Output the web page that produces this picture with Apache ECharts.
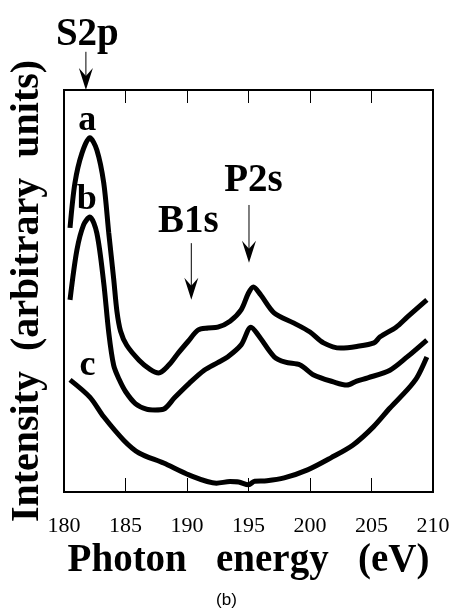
<!DOCTYPE html>
<html>
<head>
<meta charset="utf-8">
<script src="https://cdn.jsdelivr.net/npm/echarts@6/dist/echarts.min.js"></script>
<style>
html,body{margin:0;padding:0;background:#fff;}
#chart{width:453px;height:614px;}
</style>
</head>
<body>
<div id="chart"></div>
<script>
// ---- data ----
const xTicks = [180, 185, 190, 195, 200, 205, 210];

const energyA = [180.49, 180.89, 181.46, 182.1, 182.67, 183.23, 183.64, 184.04, 184.3, 184.6, 185.1, 186.1, 187.0, 187.7, 188.5, 189.3, 190.1, 190.9, 191.7, 192.5, 193.5, 194.4, 195.0, 195.4, 196.0, 197.1, 198.7, 200.0, 201.1, 202.5, 203.8, 205.2, 205.7, 207.0, 207.9, 209.5];
const intensityA = [65.7, 76.9, 84.3, 88.1, 85.1, 76.9, 64.4, 53.0, 45.0, 40.0, 36.5, 32.8, 30.5, 29.6, 31.5, 34.6, 37.5, 40.3, 40.8, 41.0, 42.5, 45.3, 49.5, 51.0, 49.0, 44.5, 42.0, 39.8, 37.1, 35.8, 36.2, 37.1, 38.6, 41.0, 43.5, 47.8];

const energyB = [180.49, 181.05, 181.6, 182.1, 182.67, 183.23, 183.64, 184.04, 184.5, 185.0, 185.8, 186.7, 187.4, 188.1, 189.0, 190.2, 191.4, 192.5, 193.3, 194.4, 195.2, 195.8, 197.1, 198.0, 199.2, 200.3, 201.9, 203.0, 203.8, 204.7, 206.5, 207.9, 209.5];
const intensityB = [47.8, 60.2, 66.5, 68.4, 64.4, 52.0, 39.6, 31.5, 27.9, 25.0, 22.0, 20.6, 20.4, 20.6, 23.5, 27.1, 30.3, 32.2, 33.6, 36.6, 41.0, 39.0, 33.6, 32.3, 31.6, 29.1, 27.4, 26.6, 27.6, 28.4, 30.3, 33.6, 37.8];

const energyC = [180.49, 182.1, 183.23, 184.85, 186.1, 188.1, 190.2, 192.4, 193.5, 194.2, 195.0, 195.5, 196.5, 197.9, 199.8, 201.7, 203.5, 205.15, 206.5, 207.9, 208.7, 209.5];
const intensityC = [27.9, 23.6, 18.7, 12.9, 9.7, 7.2, 4.2, 2.2, 2.6, 2.5, 1.8, 2.7, 2.8, 3.5, 5.5, 8.5, 11.7, 16.2, 20.9, 25.4, 28.5, 33.6];

const curveLabels = [
  {text: 'a', x: 181.9, y: 92.3},
  {text: 'b', x: 181.86, y: 72.6},
  {text: 'c', x: 181.9, y: 31.3}
];
const peakLabels = [
  {text: 'S2p', x: 181.9, y: 113.6, from: 109.5, to: 100.0, ax: 181.78},
  {text: 'B1s', x: 190.1, y: 67.3, from: 61.9, to: 47.8, ax: 190.35},
  {text: 'P2s', x: 195.4, y: 77.3, from: 71.4, to: 57.0, ax: 195.04}
];

const zip = (xs, ys) => xs.map((x, i) => [x, ys[i]]);

const chart = echarts.init(document.getElementById('chart'));
const serif = 'Liberation Serif';
const lineStyle = {color: '#000', width: 5};

chart.setOption({
  animation: false,
  backgroundColor: '#fff',
  grid: {left: 62, right: 20, top: 90, bottom: 122, show: true, borderColor: '#000', borderWidth: 2, backgroundColor: 'transparent'},
  xAxis: [{
    type: 'value', min: xTicks[0], max: xTicks[xTicks.length - 1], interval: 5,
    position: 'bottom',
    axisLine: {show: true, lineStyle: {color: '#000', width: 2}},
    axisTick: {show: true, inside: true, length: 14, lineStyle: {color: '#000', width: 1}},
    splitLine: {show: false},
    axisLabel: {color: '#000', fontFamily: serif, fontSize: 22, margin: 23},
    name: 'Photon   energy   (eV)', nameLocation: 'middle', nameGap: 42,
    nameTextStyle: {color: '#000', fontFamily: serif, fontWeight: 'bold', fontSize: 39}
  }, {
    type: 'value', min: xTicks[0], max: xTicks[xTicks.length - 1], interval: 5,
    position: 'top',
    axisLine: {show: true, lineStyle: {color: '#000', width: 2}},
    axisTick: {show: true, inside: true, length: 13, lineStyle: {color: '#000', width: 1}},
    axisLabel: {show: false}, splitLine: {show: false}
  }],
  yAxis: {
    type: 'value', min: 0, max: 100,
    axisLine: {show: true, lineStyle: {color: '#000', width: 2}},
    axisTick: {show: false}, axisLabel: {show: false}, splitLine: {show: false},
    name: 'Intensity  (arbitrary  units)', nameLocation: 'middle', nameGap: 16,
    nameTextStyle: {color: '#000', fontFamily: serif, fontWeight: 'bold', fontSize: 40}
  },
  series: [
    {type: 'line', data: zip(energyA, intensityA), smooth: 0.3, symbol: 'none', lineStyle},
    {type: 'line', data: zip(energyB, intensityB), smooth: 0.3, symbol: 'none', lineStyle},
    {type: 'line', data: zip(energyC, intensityC), smooth: 0.3, symbol: 'none', lineStyle}
  ]
});

const px = (x, y) => chart.convertToPixel({gridIndex: 0}, [x, y]);
const g = [];
curveLabels.forEach(l => {
  const p = px(l.x, l.y);
  g.push({type: 'text', x: p[0], y: p[1], style: {text: l.text, fill: '#000', font: 'bold 36px "Liberation Serif"', textAlign: 'center', textVerticalAlign: 'middle'}});
});
peakLabels.forEach(l => {
  const p = px(l.x, l.y);
  g.push({type: 'text', x: p[0], y: p[1], style: {text: l.text, fill: '#000', font: 'bold 39px "Liberation Serif"', textAlign: 'center', textVerticalAlign: 'middle'}});
  const a = px(l.ax, l.from), b = px(l.ax, l.to);
  g.push({type: 'line', shape: {x1: a[0], y1: a[1], x2: b[0], y2: b[1] - 12}, style: {stroke: '#000', lineWidth: 1}});
  g.push({type: 'polygon', shape: {points: [[b[0], b[1]], [b[0] - 7, b[1] - 22], [b[0], b[1] - 14], [b[0] + 7, b[1] - 22]]}, style: {fill: '#000'}});
});
g.push({type: 'text', left: 'center', top: 592, style: {text: '(b)', fill: '#000', font: '17px "Liberation Sans"'}});
chart.setOption({graphic: g});
</script>
</body>
</html>
